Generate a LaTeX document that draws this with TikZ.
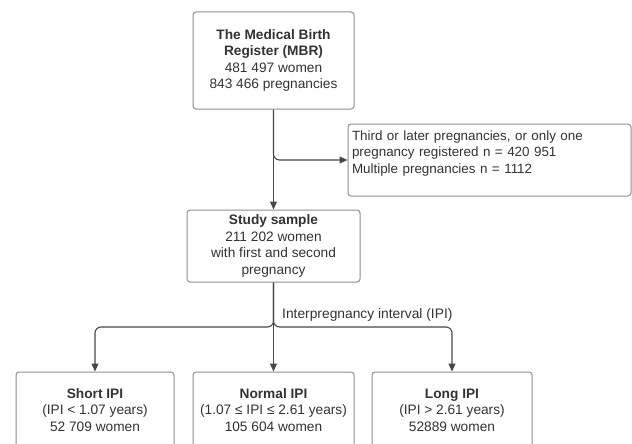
\documentclass[tikz,border=0pt]{standalone}
\usepackage{fontspec}
\setmainfont{Liberation Sans}
\usetikzlibrary{arrows.meta}
\definecolor{txtgray}{HTML}{333333}
\definecolor{linegray}{HTML}{474747}
\definecolor{framegray}{HTML}{8F8F8F}

\begin{document}
\begin{tikzpicture}[x=1pt, y=-1pt,
  box/.style={draw=framegray, line width=1pt, rounded corners=3pt, fill=white, text=txtgray,
    align=center, inner sep=0pt, font=\fontsize{13.7}{16.5}\selectfont},
  arr/.style={draw=linegray, line width=1.1pt, rounded corners=6pt, -{Triangle[width=7pt,length=8pt]}},
  lbl/.style={text=txtgray, inner sep=0pt, font=\fontsize{13.8}{15}\selectfont}]
\clip (0,0) rectangle (632,444);
\fill[white] (0,0) rectangle (632,444);
% register and exclusions
\node[box, minimum width=161, minimum height=97] (mbr) at (273.5,60.5) {\textbf{The Medical Birth}\\\textbf{Register (MBR)}\\481 497 women\\843 466 pregnancies};
\node[box, align=left, text width=275, inner xsep=4pt, minimum height=72, font=\fontsize{13.4}{16.5}\selectfont] (excl) at (489.5,160) {Third or later pregnancies, or only one\\pregnancy registered n = 420 951\\Multiple pregnancies n = 1112\\\mbox{}};
\node[box, minimum width=173, minimum height=72] (study) at (273.5,246) {\textbf{Study sample}\\211 202 women\\with first and second\\pregnancy};
% IPI groups
\node[box, minimum width=158, minimum height=76] (short) at (95,410) {\textbf{Short IPI}\\(IPI < 1.07 years)\\52 709 women};
\node[box, minimum width=161, minimum height=76] (normal) at (273.5,410) {\textbf{Normal IPI}\\(1.07 ≤ IPI ≤ 2.61 years)\\105 604 women};
\node[box, minimum width=160, minimum height=76] (long) at (452,410) {\textbf{Long IPI}\\(IPI > 2.61 years)\\52889 women};
\coordinate (fork) at (273.5,327);
\node[lbl, anchor=west] (ipi) at (282,315) {Interpregnancy interval (IPI)};
\draw[arr] (mbr) -- (study);
\draw[arr] (mbr.south) |- (excl.west);
\draw[arr] (study) -- (normal);
\draw[arr] (study.south) -- (fork) -| (short.north);
\draw[arr] (study.south) -- (fork) -| (long.north);
\end{tikzpicture}
\end{document}
